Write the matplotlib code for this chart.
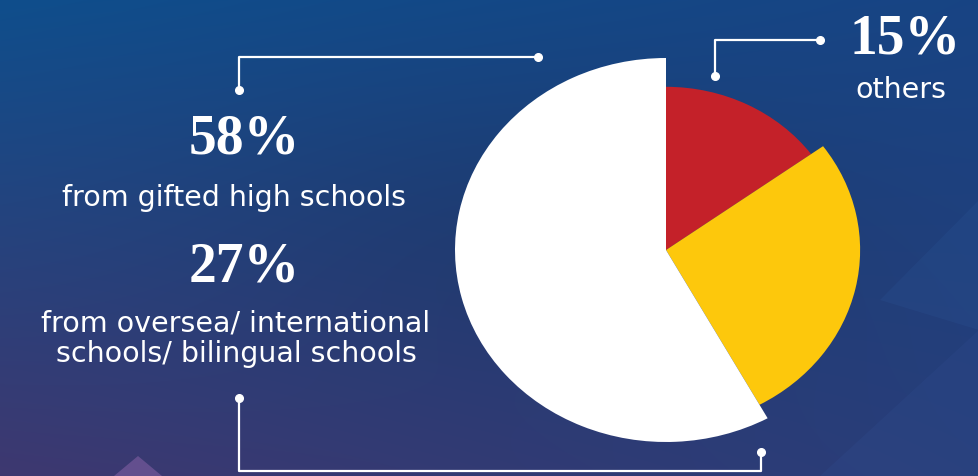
import numpy as np
import matplotlib
matplotlib.use('Agg')
from matplotlib import pyplot as plt
from matplotlib.patches import Polygon

# intake by school type
shares = [15, 27, 58]
captions = ['others',
            'from oversea/ international\nschools/ bilingual schools',
            'from gifted high schools']
colors = ['#c42129', '#fdc80c', '#ffffff']
radii = [0.85, 0.92, 1.0]

W, H = 979, 476
fig = plt.figure(figsize=(W / 100, H / 100), dpi=100)

# background gradient, pixel coordinates with y going down
bg = fig.add_axes([0, 0, 1, 1])
yy, xx = np.mgrid[0:1:H * 1j, 0:1:W * 1j]
xx, yy = xx[..., None], yy[..., None]
tl = np.array([15, 78, 140])
tr = np.array([24, 68, 132])
bl = np.array([62, 56, 112])
br = np.array([40, 62, 122])
img = (tl * (1 - xx) * (1 - yy) + tr * xx * (1 - yy)
       + bl * (1 - xx) * yy + br * xx * yy) / 255
# darker band through the middle
img = img * (1 - 0.10 * np.exp(-((xx - 0.55) ** 2 + (yy - 0.5) ** 2) / 0.12))
bg.imshow(np.clip(img, 0, 1), extent=(0, W, H, 0), aspect='auto')
bg.set_xlim(0, W)
bg.set_ylim(H, 0)
bg.axis('off')

# faint triangles
bg.add_patch(Polygon([(114, 476), (138, 456), (162, 476)], closed=True,
                     color='#6e5596', alpha=0.8, lw=0))
bg.add_patch(Polygon([(820, 476), (979, 330), (979, 476)], closed=True,
                     color='#35549a', alpha=0.18, lw=0))
bg.add_patch(Polygon([(880, 300), (979, 200), (979, 330)], closed=True,
                     color='#2f5ca0', alpha=0.18, lw=0))

# connectors
line_kw = dict(color='white', lw=1.6, solid_capstyle='butt')
dot_kw = dict(marker='o', ms=5.5, color='white', ls='none')
bg.plot([239, 239, 538], [90, 57, 57], **line_kw)
bg.plot([239, 538], [90, 57], **dot_kw)
bg.plot([715, 715, 820], [76, 40, 40], **line_kw)
bg.plot([715, 820], [76, 40], **dot_kw)
bg.plot([239, 239, 761, 761], [398, 471, 471, 452], **line_kw)
bg.plot([239, 761], [398, 452], **dot_kw)

# texts
num_font = dict(family='Liberation Serif', weight='bold', color='white',
                ha='center', va='center', size=40)
cap_font = dict(family='DejaVu Sans', color='white', ha='center', va='center',
                size=20.5)
bg.text(244, 140, f'{shares[2]}%', **num_font)
bg.text(234, 198, captions[2], **cap_font)
bg.text(244, 268, f'{shares[1]}%', **num_font)
bg.text(236, 339, captions[1], linespacing=1.1, **cap_font)
bg.text(905, 40, f'{shares[0]}%', **num_font)
bg.text(901, 90, captions[0], **cap_font)

# pie
ax = fig.add_axes([455 / W, (H - 250 - 192) / H, 422 / W, 384 / H])
wedges, _ = ax.pie(shares, colors=colors, startangle=90, counterclock=False,
                   radius=1, wedgeprops=dict(linewidth=0))
for w, r in zip(wedges, radii):
    w.set_radius(r)
ax.set_xlim(-1, 1)
ax.set_ylim(-1, 1)
ax.set_aspect('auto')
ax.patch.set_visible(False)
ax.axis('off')

fig.savefig('out.png', dpi=100)
